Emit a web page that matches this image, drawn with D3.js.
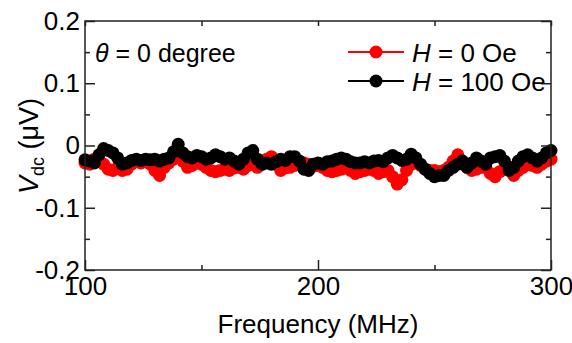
<!DOCTYPE html>
<html>
<head>
<meta charset="utf-8">
<script src="https://cdn.jsdelivr.net/npm/d3@7"></script>
<style>
  html, body { margin: 0; padding: 0; background: #fff; }
  svg { display: block; font-family: "Liberation Sans", Arial, sans-serif; }
</style>
</head>
<body>
<svg id="chart" width="572" height="343"></svg>
<script>
// frequency sweep 100..300 MHz, 2 MHz step
const frequencies = d3.range(100, 301, 2);

// H = 0 Oe (red)
const vdcH0 = [
  -0.028, -0.03, -0.022, -0.025, -0.03, -0.038, -0.04, -0.035, -0.04, -0.038,
  -0.03, -0.025, -0.028, -0.026, -0.03, -0.04, -0.048, -0.035, -0.028, -0.022,
  -0.018, -0.025, -0.035, -0.032, -0.028, -0.03, -0.035, -0.04, -0.042, -0.04,
  -0.038, -0.04, -0.036, -0.035, -0.038, -0.032, -0.03, -0.035, -0.03, -0.022,
  -0.018, -0.03, -0.04, -0.036, -0.035, -0.032, -0.03, -0.028, -0.03, -0.033,
  -0.032, -0.035, -0.04, -0.042, -0.04, -0.038, -0.036, -0.04, -0.045, -0.042,
  -0.04, -0.038, -0.04, -0.045, -0.042, -0.04, -0.05, -0.062, -0.055, -0.04,
  -0.03, -0.028, -0.032, -0.038, -0.04, -0.04, -0.042, -0.04, -0.035, -0.025,
  -0.015, -0.028, -0.035, -0.04, -0.038, -0.035, -0.035, -0.045, -0.05, -0.042,
  -0.038, -0.035, -0.048, -0.04, -0.035, -0.03, -0.032, -0.035, -0.03, -0.025,
  -0.022
];

// H = 100 Oe (black)
const vdcH100 = [
  -0.023, -0.025, -0.028, -0.015, -0.005, -0.008, -0.012, -0.02, -0.03, -0.028,
  -0.024, -0.022, -0.024, -0.022, -0.023, -0.022, -0.025, -0.022, -0.02, -0.01,
  0.002, -0.012, -0.018, -0.02, -0.016, -0.018, -0.022, -0.02, -0.015, -0.018,
  -0.022, -0.02, -0.025, -0.03, -0.022, -0.012, -0.008, -0.022, -0.03, -0.028,
  -0.03, -0.026, -0.022, -0.024, -0.018, -0.018, -0.025, -0.038, -0.04, -0.03,
  -0.028, -0.03, -0.026, -0.025, -0.022, -0.02, -0.022, -0.026, -0.028, -0.028,
  -0.026, -0.028, -0.025, -0.024, -0.026, -0.02, -0.016, -0.02, -0.024, -0.022,
  -0.014, -0.02, -0.03, -0.038, -0.045, -0.05, -0.048, -0.048, -0.04, -0.035,
  -0.03, -0.025, -0.035, -0.028, -0.02, -0.025, -0.03, -0.02, -0.018, -0.016,
  -0.025, -0.04, -0.035, -0.025, -0.018, -0.015, -0.02, -0.025, -0.02, -0.012,
  -0.008
];

const series = [
  { label: "0 Oe", color: "#ff0000", values: vdcH0 },
  { label: "100 Oe", color: "#000000", values: vdcH100 },
];

const xMajor = [100, 200, 300];
const xMinor = [150, 250];
const yMajor = [-0.2, -0.1, 0, 0.1, 0.2];
const yMinor = [-0.15, -0.05, 0.05, 0.15];
const yTickLabels = ["-0.2", "-0.1", "0", "0.1", "0.2"];

const svg = d3.select("#chart");
const plot = { left: 85, right: 551, top: 21, bottom: 270 };
const axisColor = "#222";

const x = d3.scaleLinear().domain([100, 300]).range([plot.left, plot.right]);
const y = d3.scaleLinear().domain([-0.2, 0.2]).range([plot.bottom, plot.top]);

// data
const line = d3.line().x((d) => x(d[0])).y((d) => y(d[1]));
series.forEach((s) => {
  const pts = frequencies.map((f, i) => [f, s.values[i]]);
  const g = svg.append("g");
  g.append("path").attr("d", line(pts)).attr("fill", "none").attr("stroke", s.color).attr("stroke-width", 2);
  g.selectAll("circle")
    .data(pts)
    .join("circle")
    .attr("cx", (d) => x(d[0]))
    .attr("cy", (d) => y(d[1]))
    .attr("r", 6.5)
    .attr("fill", s.color);
});

// axes, ticks pointing inward
function styleAxis(g) {
  g.select(".domain").remove();
  g.selectAll("line").attr("stroke", axisColor).attr("stroke-width", 1.5);
  g.selectAll("text").attr("fill", "#000").attr("font-size", 26).attr("font-family", '"Liberation Sans", Arial, sans-serif');
}

svg.append("g").attr("transform", `translate(0,${plot.bottom})`)
  .call(d3.axisBottom(x).tickValues(xMajor).tickSizeInner(-10).tickSizeOuter(0).tickPadding(7).tickFormat(d3.format("d")))
  .call(styleAxis);
svg.append("g").attr("transform", `translate(0,${plot.bottom})`)
  .call(d3.axisBottom(x).tickValues(xMinor).tickSizeInner(-5).tickSizeOuter(0).tickFormat(""))
  .call(styleAxis);
svg.append("g").attr("transform", `translate(0,${plot.top})`)
  .call(d3.axisTop(x).tickValues(xMajor.concat(xMinor)).tickSizeInner(-5).tickSizeOuter(0).tickFormat(""))
  .call(styleAxis);

svg.append("g").attr("transform", `translate(${plot.left},0)`)
  .call(d3.axisLeft(y).tickValues(yMajor).tickSizeInner(-10).tickSizeOuter(0).tickPadding(5)
    .tickFormat((d, i) => yTickLabels[i]))
  .call(styleAxis);
svg.append("g").attr("transform", `translate(${plot.left},0)`)
  .call(d3.axisLeft(y).tickValues(yMinor).tickSizeInner(-5).tickSizeOuter(0).tickFormat(""))
  .call(styleAxis);
svg.append("g").attr("transform", `translate(${plot.right},0)`)
  .call(d3.axisRight(y).tickValues(yMajor).tickSizeInner(-10).tickSizeOuter(0).tickFormat(""))
  .call(styleAxis);
svg.append("g").attr("transform", `translate(${plot.right},0)`)
  .call(d3.axisRight(y).tickValues(yMinor).tickSizeInner(-5).tickSizeOuter(0).tickFormat(""))
  .call(styleAxis);

// frame
svg.append("rect")
  .attr("x", plot.left).attr("y", plot.top)
  .attr("width", plot.right - plot.left).attr("height", plot.bottom - plot.top)
  .attr("fill", "none").attr("stroke", axisColor).attr("stroke-width", 1.5);

// axis titles
svg.append("text")
  .attr("x", (plot.left + plot.right) / 2).attr("y", 333)
  .attr("text-anchor", "middle").attr("font-size", 26)
  .text("Frequency (MHz)");

const yTitle = svg.append("text")
  .attr("transform", "translate(38,146) rotate(-90)")
  .attr("text-anchor", "middle").attr("font-size", 27);
yTitle.append("tspan").attr("font-style", "italic").text("V");
yTitle.append("tspan").attr("font-size", 18).attr("dy", 6).text("dc");
yTitle.append("tspan").attr("dy", -6).text(" (\u03bcV)");

// annotation
const note = svg.append("text").attr("x", 95).attr("y", 62).attr("font-size", 25);
note.append("tspan").attr("font-style", "italic").text("\u03b8");
note.append("tspan").text(" = 0 degree");

// legend
series.forEach((s, i) => {
  const ly = 52 + i * 29;
  const g = svg.append("g");
  g.append("line").attr("x1", 348).attr("x2", 404).attr("y1", ly).attr("y2", ly)
    .attr("stroke", s.color).attr("stroke-width", 2);
  g.append("circle").attr("cx", 376).attr("cy", ly).attr("r", 6.5).attr("fill", s.color);
  const t = g.append("text").attr("x", 412).attr("y", ly + 10).attr("font-size", 26);
  t.append("tspan").attr("font-style", "italic").text("H");
  t.append("tspan").text(" = " + s.label);
});
</script>
</body>
</html>
